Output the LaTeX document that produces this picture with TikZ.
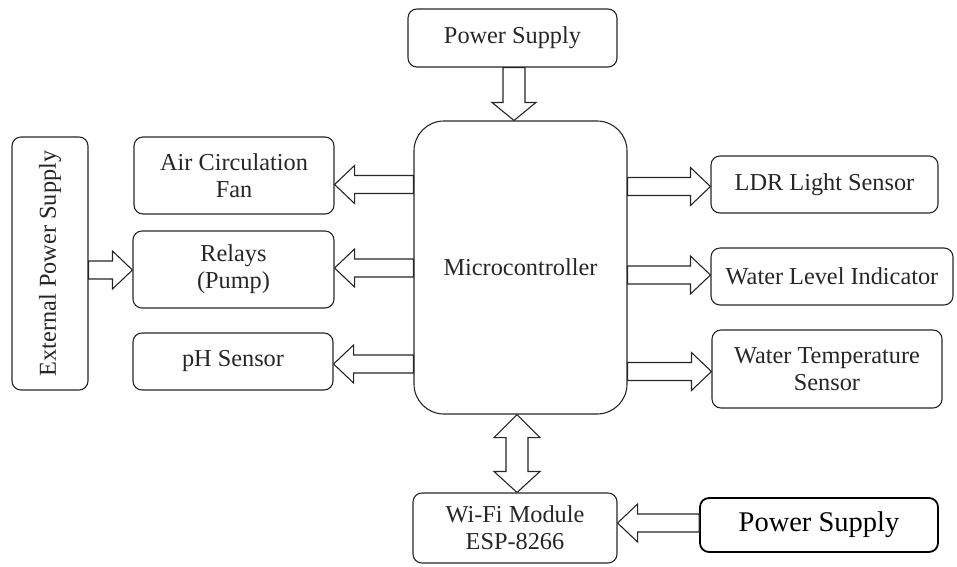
\documentclass[tikz,border=0pt]{standalone}
\usepackage{fontspec}
\setmainfont{Liberation Serif}
\usetikzlibrary{calc}
\definecolor{ink}{HTML}{262626}

% hollow block arrows; #1 = tail point on the source border, #2 = tip on the target border
\newcommand\blockleft[2]{\draw[blk] let \p1=(#1), \p2=(#2) in
  (\x1,\y1+9pt) -- (\x2+20pt,\y1+9pt) -- (\x2+20pt,\y1+19pt) -- (\x2,\y1)
  -- (\x2+20pt,\y1-19pt) -- (\x2+20pt,\y1-9pt) -- (\x1,\y1-9pt) -- cycle;}
\newcommand\blockright[2]{\draw[blk] let \p1=(#1), \p2=(#2) in
  (\x1,\y1+9pt) -- (\x2-20pt,\y1+9pt) -- (\x2-20pt,\y1+19pt) -- (\x2,\y1)
  -- (\x2-20pt,\y1-19pt) -- (\x2-20pt,\y1-9pt) -- (\x1,\y1-9pt) -- cycle;}
\newcommand\blockdown[2]{\draw[blk] let \p1=(#1), \p2=(#2) in
  (\x1-11pt,\y1) -- (\x1-11pt,\y2+18pt) -- (\x1-22pt,\y2+18pt) -- (\x1,\y2)
  -- (\x1+22pt,\y2+18pt) -- (\x1+11pt,\y2+18pt) -- (\x1+11pt,\y1) -- cycle;}
\newcommand\blockboth[2]{\draw[blk] let \p1=(#1), \p2=(#2) in
  (\x1,\y1) -- (\x1-23pt,\y1-23pt) -- (\x1-11pt,\y1-23pt) -- (\x1-11pt,\y2+21pt)
  -- (\x1-23pt,\y2+21pt) -- (\x1,\y2) -- (\x1+23pt,\y2+21pt) -- (\x1+11pt,\y2+21pt)
  -- (\x1+11pt,\y1-23pt) -- (\x1+23pt,\y1-23pt) -- cycle;}

\begin{document}
\begin{tikzpicture}[x=1pt,y=-1pt,
  box/.style={draw=ink, line width=1.1pt, rounded corners=9pt, align=center,
    inner sep=0pt, text=ink, font=\fontsize{24.3}{27}\selectfont},
  blk/.style={draw=ink, line width=1.1pt, fill=white, line join=miter}]
\useasboundingbox (0,0) rectangle (957,566);

% central controller
\node[box, rounded corners=30pt, minimum width=213pt, minimum height=293pt]
  (mc) at (520.5,267.5) {Microcontroller};

% supply on top
\node[box, minimum width=209pt, minimum height=58pt] (ps) at (512.5,38) {Power Supply};

% actuators and sensors on the left
\node[box, minimum width=200pt, minimum height=77pt] (fan) at (234,175.5) {Air Circulation\\Fan};
\node[box, minimum width=201pt, minimum height=77pt] (relay) at (233.5,269.5) {Relays\\(Pump)};
\node[box, minimum width=200pt, minimum height=57pt] (ph) at (233,361.5) {pH Sensor};

% external supply for the relays
\node[box, minimum width=76pt, minimum height=253pt] (ext) at (50,263.5) {};
\node[rotate=90, text=ink, font=\fontsize{24.3}{27}\selectfont] (extlabel) at (ext.center) {External Power Supply};

% sensors on the right
\node[box, minimum width=227pt, minimum height=57pt] (ldr) at (824.5,184.5) {LDR Light Sensor};
\node[box, minimum width=242pt, minimum height=57pt] (level) at (832,276.5) {Water Level Indicator};
\node[box, minimum width=230pt, minimum height=78pt] (temp) at (827,369) {Water Temperature\\Sensor};

% wireless module and its supply
\node[box, minimum width=204pt, minimum height=70pt] (wifi) at (515,528) {Wi-Fi Module\\ESP-8266};
\node[box, draw=black, line width=1.8pt, text=black, minimum width=238pt, minimum height=54pt,
  font=\fontsize{28.5}{32}\selectfont] (ps2) at (819,525) {Power Supply};

% block arrows
\blockdown{514,0 |- ps.south}{514,0 |- mc.north}
\blockleft{mc.west |- 0,184.5}{fan.east |- 0,184.5}
\blockleft{mc.west |- 0,268}{relay.east |- 0,268}
\blockleft{mc.west |- 0,364}{ph.east |- 0,364}
\blockright{ext.east |- 0,270}{relay.west |- 0,270}
\blockright{mc.east |- 0,186.5}{ldr.west |- 0,186.5}
\blockright{mc.east |- 0,275}{level.west |- 0,275}
\blockright{mc.east |- 0,371.5}{temp.west |- 0,371.5}
\blockboth{517,0 |- mc.south}{517,0 |- wifi.north}
\blockleft{ps2.west |- 0,523}{wifi.east |- 0,523}
\end{tikzpicture}
\end{document}
